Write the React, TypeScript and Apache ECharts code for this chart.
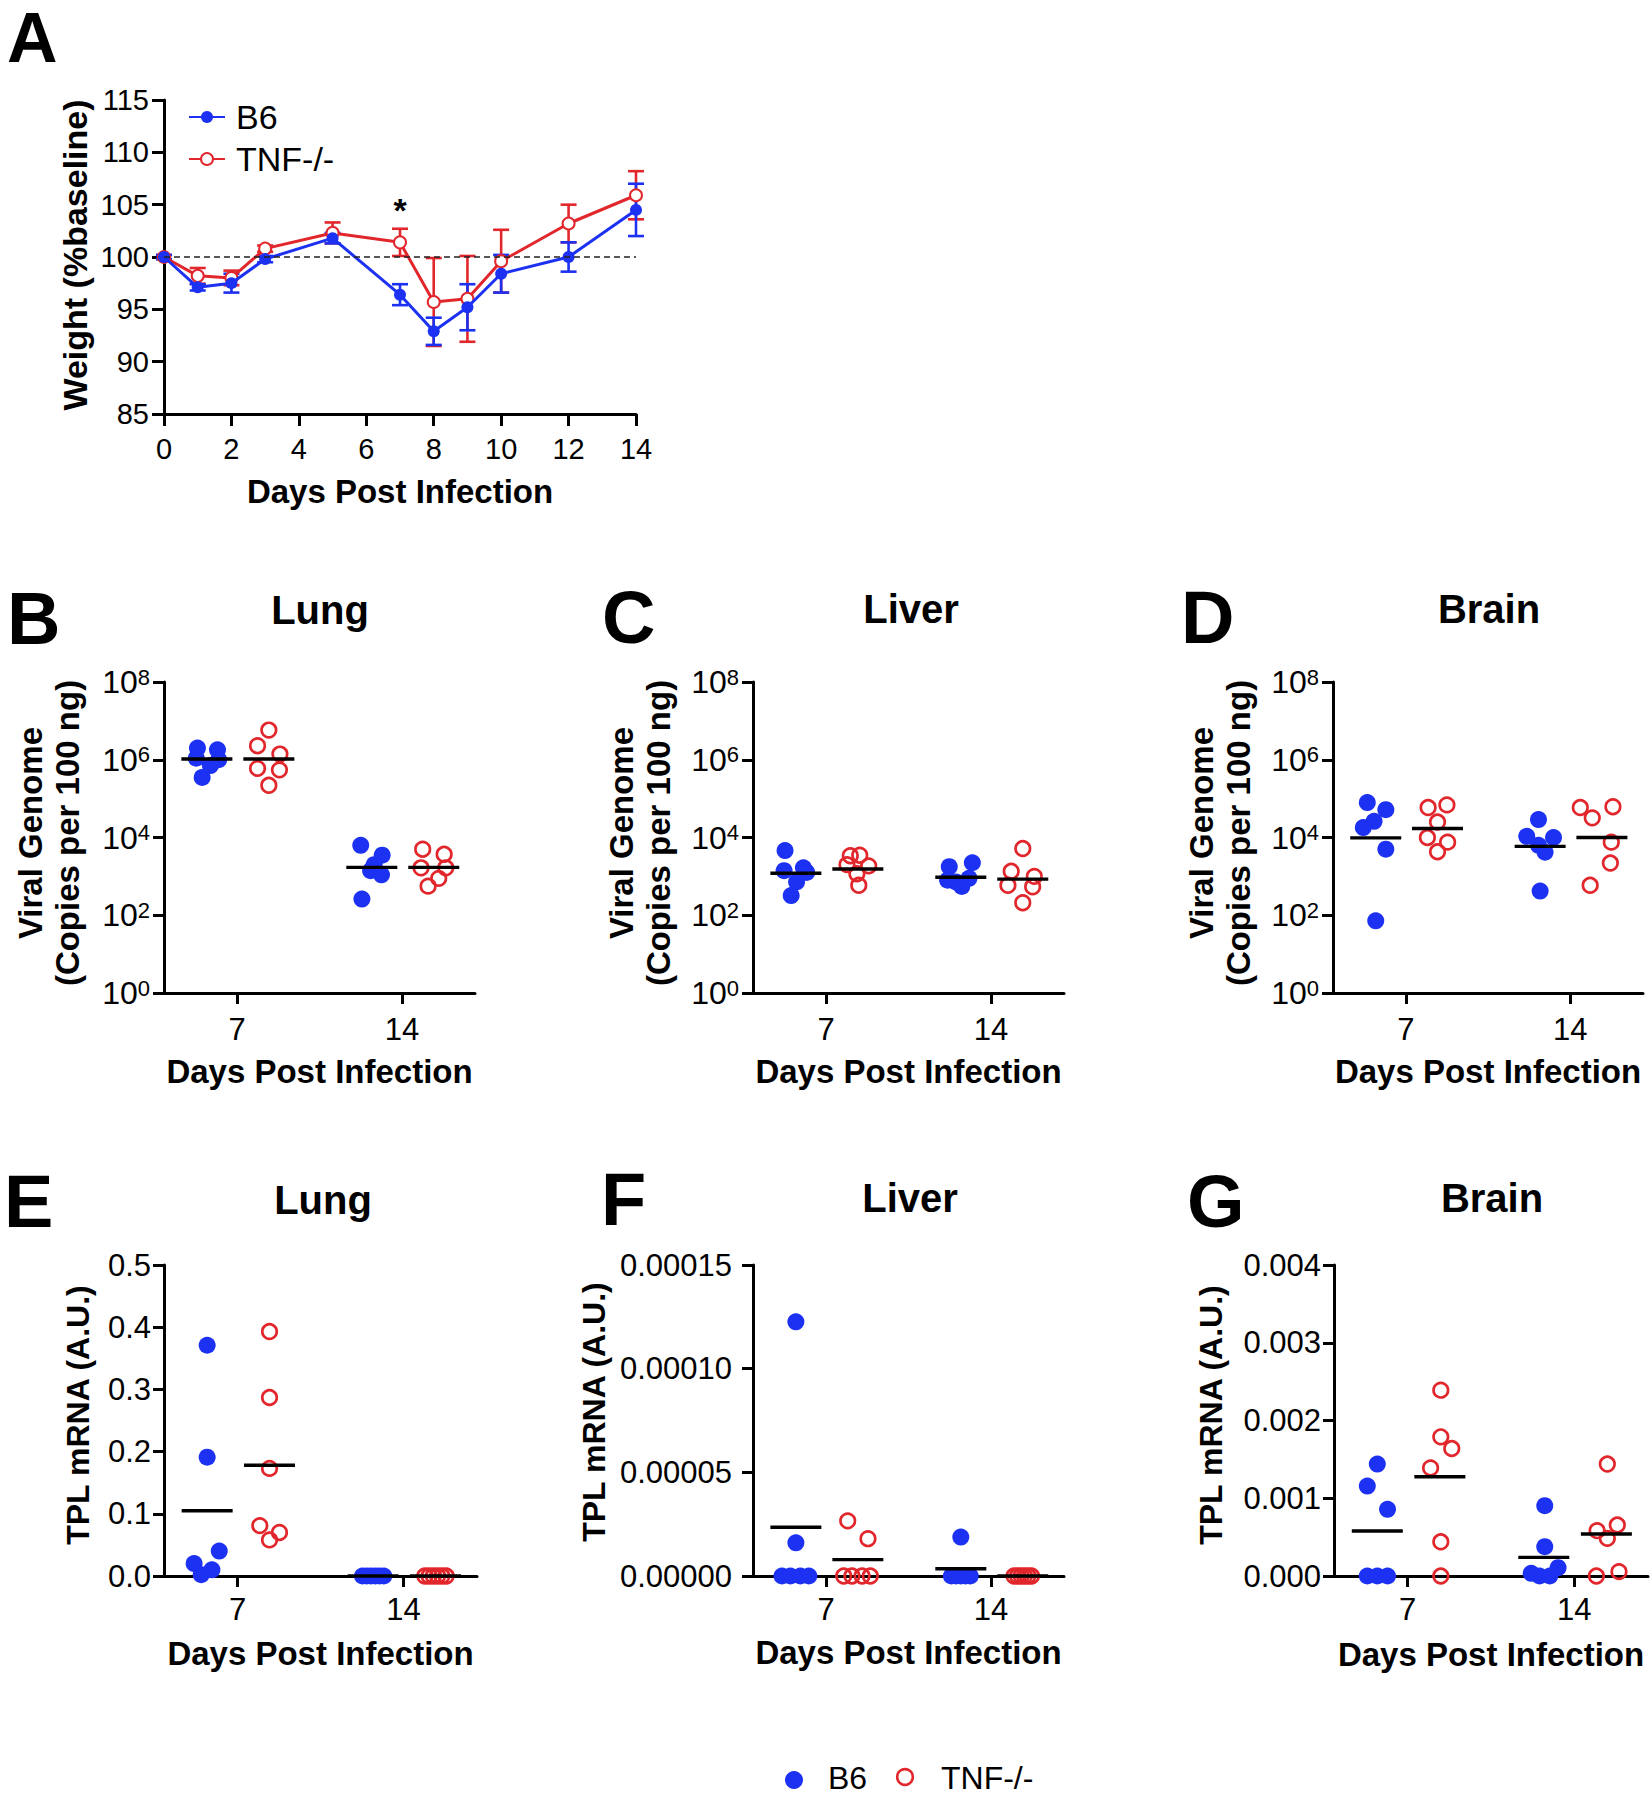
import React, { useEffect, useRef } from "react";
import * as echarts from "echarts";

const FONT = '"Liberation Sans", Arial, Helvetica, sans-serif';
const BLUE = "#1c31f2";
const RED = "#e1262c";
const BLACK = "#000000";

// ---------------- Panel A : weight (% baseline) ----------------
const A_DAYS = [0, 1, 2, 3, 5, 7, 8, 9, 10, 12, 14];
const A_B6_MEAN = [100, 97.1, 97.5, 99.8, 101.8, 96.4, 92.9, 95.2, 98.4, 100.0, 104.5];
const A_B6_SEM = [0.2, 0.3, 0.9, 0.3, 0.5, 1.0, 1.3, 2.2, 1.8, 1.4, 2.5];
const A_TNF_MEAN = [100, 98.2, 98.0, 100.8, 102.3, 101.4, 95.7, 96.0, 99.6, 103.2, 105.9];
const A_TNF_SEM = [0.2, 0.75, 0.7, 0.3, 1.0, 1.3, 4.2, 4.1, 3.0, 1.8, 2.3];
const A_SIG_DAYS = [7];

// ---------------- Panels B-G : per-mouse values, days 7 and 14 ----------------
const DAYS = [7, 14];
const LOG_TICKS = [1, 1e2, 1e4, 1e6, 1e8];

// B  Lung viral genome (copies per 100 ng)
const B_B6 = [[2.0e6, 1.8e6, 1.1e6, 1.0e6, 7.1e5, 3.5e5], [6300, 3500, 2000, 1400, 1100, 260]];
const B_TNF = [[5.8e6, 2.3e6, 1.4e6, 6.0e5, 5.5e5, 2.2e5], [5000, 3700, 1660, 1660, 890, 560]];
const B_B6_LINE = [1.05e6, 1700];
const B_TNF_LINE = [1.05e6, 1700];
// C  Liver viral genome
const C_B6 = [[4600, 1660, 1400, 1260, 720, 320], [1780, 2240, 720, 890, 550, 800]];
const C_TNF = [[3400, 3500, 2000, 1860, 1170, 590], [5200, 1350, 1000, 590, 540, 210]];
const C_B6_LINE = [1200, 950];
const C_TNF_LINE = [1550, 850];
// D  Brain viral genome
const D_B6 = [[79000, 52000, 26000, 18000, 5000, 72], [29000, 10700, 10000, 6300, 4200, 420]];
const D_TNF = [[59000, 69000, 25000, 10000, 7600, 4300], [59000, 62000, 32000, 7600, 2200, 590]];
const D_B6_LINE = [9800, 5900];
const D_TNF_LINE = [17000, 10000];
// E  Lung TPL mRNA (A.U.)
const E_B6 = [[0.371, 0.191, 0.04, 0.02, 0.01, 0.002], [0, 0, 0, 0, 0, 0]];
const E_TNF = [[0.393, 0.287, 0.173, 0.081, 0.07, 0.058], [0, 0, 0, 0, 0, 0]];
const E_B6_LINE = [0.105, 0];
const E_TNF_LINE = [0.178, 0];
// F  Liver TPL mRNA
const F_B6 = [[1.226e-4, 1.6e-5, 0, 0, 0, 0], [1.88e-5, 0, 0, 0, 0, 0]];
const F_TNF = [[2.66e-5, 1.8e-5, 0, 0, 0, 0], [0, 0, 0, 0, 0, 0]];
const F_B6_LINE = [2.35e-5, 3.5e-6];
const F_TNF_LINE = [7.9e-6, 0];
// G  Brain TPL mRNA
const G_B6 = [[1.44e-3, 1.157e-3, 8.57e-4, 0, 0, 0], [9.05e-4, 3.77e-4, 1.07e-4, 3.4e-5, 0, 0]];
const G_TNF = [[2.39e-3, 1.79e-3, 1.64e-3, 1.39e-3, 4.4e-4, 0], [1.44e-3, 6.56e-4, 5.83e-4, 4.84e-4, 5.6e-5, 0]];
const G_B6_LINE = [5.78e-4, 2.4e-4];
const G_TNF_LINE = [1.277e-3, 5.4e-4];

// ---------------- layout (horizontal scatter positions) ----------------
const B6_SHIFT = -1.28;
const TNF_SHIFT = 1.35;
const B_B6_X = [[-0.4, 0.45, -0.45, 0.5, 0.15, -0.2], [-0.47, 0.44, 0.1, -0.05, 0.41, -0.42]];
const B_TNF_X = [[0, -0.48, 0.47, -0.48, 0.45, 0], [-0.47, 0.44, -0.54, 0.51, 0.21, -0.24]];
const C_B6_X = [[-0.46, 0.32, -0.5, 0.46, 0.03, -0.2], [-0.49, 0.49, -0.21, 0.35, 0.04, -0.56]];
const C_TNF_X = [[-0.32, 0.08, -0.46, 0.46, -0.04, 0.04], [0, -0.49, 0.49, -0.63, 0.42, 0]];
const D_B6_X = [[-0.36, 0.43, -0.07, -0.53, 0.43, 0], [-0.07, -0.57, 0.57, -0.07, 0.21, 0]];
const D_TNF_X = [[-0.4, 0.4, 0, -0.43, 0.43, 0], [-0.92, 0.47, -0.41, 0.4, 0.36, -0.5]];
const E_B6_X = [[0, 0, 0.51, -0.55, 0.2, -0.25], [-0.45, -0.27, -0.09, 0.09, 0.27, 0.45]];
const E_TNF_X = [[0, 0, 0, -0.41, 0.42, 0], [-0.45, -0.27, -0.09, 0.09, 0.27, 0.45]];
const F_B6_X = [[0, 0, -0.59, -0.23, 0.19, 0.55], [0, -0.4, -0.2, 0, 0.2, 0.4]];
const F_TNF_X = [[-0.43, 0.43, -0.6, -0.25, 0.18, 0.53], [-0.37, -0.22, -0.07, 0.07, 0.22, 0.37]];
const G_B6_X = [[0, -0.42, 0.43, -0.42, 0, 0.43], [0.04, 0.04, 0.6, -0.53, -0.18, 0.25]];
const G_TNF_X = [[0.04, 0.04, 0.5, -0.39, 0.04, 0.04], [0.04, 0.46, -0.39, 0.04, 0.53, -0.42]];

const GRIDS = [
  { left: 164, top: 100, width: 472, height: 314 },
  { left: 164, top: 682, width: 311, height: 311 },
  { left: 753, top: 682, width: 311, height: 311 },
  { left: 1333, top: 682, width: 310, height: 311 },
  { left: 164, top: 1265, width: 313, height: 311 },
  { left: 753, top: 1265, width: 311, height: 311 },
  { left: 1334, top: 1265, width: 314, height: 311 },
];

type Panel = {
  title: string;
  letter: string;
  kind: "log" | "lin";
  max?: number;
  interval?: number;
  decimals?: number;
  labelMargin: number;
  xLabelMargin: number;
  xNameGap: number;
  b6: number[][];
  tnf: number[][];
  b6x: number[][];
  tnfx: number[][];
  b6Line: number[];
  tnfLine: number[];
};

const PANELS: Panel[] = [
  { title: "Lung", letter: "B", kind: "log", labelMargin: 14, xLabelMargin: 21, xNameGap: 62, b6: B_B6, tnf: B_TNF, b6x: B_B6_X, tnfx: B_TNF_X, b6Line: B_B6_LINE, tnfLine: B_TNF_LINE },
  { title: "Liver", letter: "C", kind: "log", labelMargin: 14, xLabelMargin: 21, xNameGap: 62, b6: C_B6, tnf: C_TNF, b6x: C_B6_X, tnfx: C_TNF_X, b6Line: C_B6_LINE, tnfLine: C_TNF_LINE },
  { title: "Brain", letter: "D", kind: "log", labelMargin: 14, xLabelMargin: 21, xNameGap: 62, b6: D_B6, tnf: D_TNF, b6x: D_B6_X, tnfx: D_TNF_X, b6Line: D_B6_LINE, tnfLine: D_TNF_LINE },
  { title: "Lung", letter: "E", kind: "lin", max: 0.5, interval: 0.1, decimals: 1, labelMargin: 13, xLabelMargin: 18, xNameGap: 61, b6: E_B6, tnf: E_TNF, b6x: E_B6_X, tnfx: E_TNF_X, b6Line: E_B6_LINE, tnfLine: E_TNF_LINE },
  { title: "Liver", letter: "F", kind: "lin", max: 0.00015, interval: 0.00005, decimals: 5, labelMargin: 21, xLabelMargin: 18, xNameGap: 60, b6: F_B6, tnf: F_TNF, b6x: F_B6_X, tnfx: F_TNF_X, b6Line: F_B6_LINE, tnfLine: F_TNF_LINE },
  { title: "Brain", letter: "G", kind: "lin", max: 0.004, interval: 0.001, decimals: 3, labelMargin: 13, xLabelMargin: 18, xNameGap: 62, b6: G_B6, tnf: G_TNF, b6x: G_B6_X, tnfx: G_TNF_X, b6Line: G_B6_LINE, tnfLine: G_TNF_LINE },
];

const axisLine = { show: true, onZero: false, lineStyle: { color: BLACK, width: 3 } };
const axisTick = { show: true, length: 11, lineStyle: { color: BLACK, width: 3 } };

function groupPoints(vals: number[][], offs: number[][], shift: number) {
  const out: number[][] = [];
  DAYS.forEach((d, di) => {
    vals[di].forEach((v, i) => out.push([d + shift + offs[di][i], v]));
  });
  return out;
}

function errorBarSeries(name: string, means: number[], sems: number[], color: string) {
  return {
    type: "custom",
    name,
    xAxisIndex: 0,
    yAxisIndex: 0,
    encode: { x: 0, y: 1 },
    data: A_DAYS.map((d, i) => [d, means[i], sems[i]]),
    renderItem: (params: any, api: any) => {
      const x = api.value(0);
      const m = api.value(1);
      const e = api.value(2);
      const top = api.coord([x, m + e]);
      const bot = api.coord([x, m - e]);
      const half = 8;
      const st = { stroke: color, lineWidth: 2.6 };
      return {
        type: "group",
        children: [
          { type: "line", shape: { x1: top[0], y1: top[1], x2: bot[0], y2: bot[1] }, style: st },
          { type: "line", shape: { x1: top[0] - half, y1: top[1], x2: top[0] + half, y2: top[1] }, style: st },
          { type: "line", shape: { x1: bot[0] - half, y1: bot[1], x2: bot[0] + half, y2: bot[1] }, style: st },
        ],
      };
    },
    z: 2,
  };
}

function buildOption() {
  const xAxis: any[] = [];
  const yAxis: any[] = [];
  const series: any[] = [];

  // ----- Panel A axes -----
  xAxis.push({
    type: "value",
    gridIndex: 0,
    min: 0,
    max: 14,
    interval: 2,
    axisLine,
    axisTick: { ...axisTick, length: 12 },
    splitLine: { show: false },
    axisLabel: { color: BLACK, fontSize: 29, fontFamily: FONT, margin: 20 },
    name: "Days Post Infection",
    nameLocation: "middle",
    nameGap: 61,
    nameTextStyle: { color: BLACK, fontSize: 33, fontWeight: "bold", fontFamily: FONT },
  });
  yAxis.push({
    type: "value",
    gridIndex: 0,
    min: 85,
    max: 115,
    interval: 5,
    axisLine,
    axisTick: { ...axisTick, length: 12 },
    splitLine: { show: false },
    axisLabel: { color: BLACK, fontSize: 29, fontFamily: FONT, margin: 15 },
  });

  series.push(errorBarSeries("TNF-/- SEM", A_TNF_MEAN, A_TNF_SEM, RED));
  series.push({
    type: "line",
    name: "TNF-/-",
    xAxisIndex: 0,
    yAxisIndex: 0,
    data: A_DAYS.map((d, i) =>
      A_SIG_DAYS.indexOf(d) >= 0
        ? {
            value: [d, A_TNF_MEAN[i]],
            label: {
              show: true,
              formatter: "*",
              position: "top",
              distance: 8,
              fontSize: 34,
              fontWeight: "bold",
              fontFamily: FONT,
              color: BLACK,
            },
          }
        : [d, A_TNF_MEAN[i]]
    ),
    symbol: "emptyCircle",
    symbolSize: 12,
    lineStyle: { color: RED, width: 3 },
    itemStyle: { color: RED, borderWidth: 2.5 },
    markLine: {
      silent: true,
      symbol: ["none", "none"],
      label: { show: false },
      lineStyle: { color: "#222", width: 1.5, type: [6, 4] },
      data: [{ yAxis: 100 }],
    },
    z: 2,
  });
  series.push(errorBarSeries("B6 SEM", A_B6_MEAN, A_B6_SEM, BLUE));
  series.push({
    type: "line",
    name: "B6",
    xAxisIndex: 0,
    yAxisIndex: 0,
    data: A_DAYS.map((d, i) => [d, A_B6_MEAN[i]]),
    symbol: "circle",
    symbolSize: 12,
    lineStyle: { color: BLUE, width: 3 },
    itemStyle: { color: BLUE },
    z: 3,
  });

  // ----- Panels B-G -----
  PANELS.forEach((p, k) => {
    const gi = k + 1;
    xAxis.push({
      type: "value",
      gridIndex: gi,
      min: 3.9,
      max: 17.1,
      axisLine,
      axisTick: { ...axisTick, customValues: DAYS },
      splitLine: { show: false },
      axisLabel: {
        customValues: DAYS,
        color: BLACK,
        fontSize: 31,
        fontFamily: FONT,
        margin: p.xLabelMargin,
      },
      name: "Days Post Infection",
      nameLocation: "middle",
      nameGap: p.xNameGap,
      nameTextStyle: { color: BLACK, fontSize: 33, fontWeight: "bold", fontFamily: FONT },
    });
    if (p.kind === "log") {
      yAxis.push({
        type: "log",
        logBase: 10,
        gridIndex: gi,
        min: 1,
        max: 1e8,
        axisLine,
        axisTick: { ...axisTick, customValues: LOG_TICKS },
        minorTick: { show: false },
        splitLine: { show: false },
        axisLabel: {
          customValues: LOG_TICKS,
          margin: p.labelMargin,
          formatter: (v: number) => `{b|10}{s|${Math.round(Math.log10(v))}}`,
          rich: {
            b: { fontSize: 32, fontFamily: FONT, color: BLACK },
            s: { fontSize: 22, fontFamily: FONT, color: BLACK, verticalAlign: "top" },
          },
        },
      });
    } else {
      yAxis.push({
        type: "value",
        gridIndex: gi,
        min: 0,
        max: p.max,
        interval: p.interval,
        axisLine,
        axisTick,
        splitLine: { show: false },
        axisLabel: {
          margin: p.labelMargin,
          color: BLACK,
          fontSize: 31,
          fontFamily: FONT,
          formatter: (v: number) => v.toFixed(p.decimals),
        },
      });
    }

    series.push({
      type: "scatter",
      name: `B6 ${p.letter}`,
      xAxisIndex: gi,
      yAxisIndex: gi,
      clip: false,
      symbol: "circle",
      symbolSize: 17,
      itemStyle: { color: BLUE, opacity: 1 },
      data: groupPoints(p.b6, p.b6x, B6_SHIFT),
      z: 3,
    });
    series.push({
      type: "scatter",
      name: `TNF-/- ${p.letter}`,
      xAxisIndex: gi,
      yAxisIndex: gi,
      clip: false,
      symbol: "circle",
      symbolSize: 14.5,
      itemStyle: { color: "rgba(255,255,255,0)", borderColor: RED, borderWidth: 2.7, opacity: 1 },
      data: groupPoints(p.tnf, p.tnfx, TNF_SHIFT),
      z: 3,
    });
    const lineData: number[][] = [];
    DAYS.forEach((d, di) => {
      lineData.push([d + B6_SHIFT, p.b6Line[di]]);
      lineData.push([d + TNF_SHIFT, p.tnfLine[di]]);
    });
    series.push({
      type: "scatter",
      name: `Mean ${p.letter}`,
      xAxisIndex: gi,
      yAxisIndex: gi,
      clip: false,
      symbol: "rect",
      symbolSize: [51, 3.4],
      itemStyle: { color: BLACK, opacity: 1 },
      data: lineData,
      z: 4,
    });
  });

  // ----- free texts -----
  const letterPos: [string, number, number, number][] = [
    ["A", 7, 38, 70],
    ["B", 7, 618, 74],
    ["C", 602, 617, 74],
    ["D", 1181, 617, 74],
    ["E", 4, 1201, 74],
    ["F", 601, 1199, 74],
    ["G", 1187, 1201, 74],
  ];
  const titlePos = [
    [320, 610],
    [911, 609],
    [1489, 609],
    [323, 1200],
    [910, 1198],
    [1492, 1198],
  ];
  const yNamePos = [
    [49, 833],
    [640, 833],
    [1220, 833],
    [78, 1415],
    [594, 1412],
    [1211, 1415],
  ];
  const graphic: any[] = [];
  letterPos.forEach(([t, x, y, fs]) =>
    graphic.push({
      type: "text",
      x,
      y,
      style: { text: t, fontSize: fs, lineHeight: 56, fontWeight: "bold", fontFamily: FONT, fill: BLACK, align: "left", verticalAlign: "middle", textAlign: "left", textVerticalAlign: "middle" },
    })
  );
  PANELS.forEach((p, k) => {
    graphic.push({
      type: "text",
      x: titlePos[k][0],
      y: titlePos[k][1],
      style: { text: p.title, fontSize: 40, fontWeight: "bold", fontFamily: FONT, fill: BLACK, align: "center", verticalAlign: "middle", textAlign: "center", textVerticalAlign: "middle" },
    });
    const isLog = p.kind === "log";
    graphic.push({
      type: "text",
      x: yNamePos[k][0],
      y: yNamePos[k][1],
      rotation: Math.PI / 2,
      style: {
        text: isLog ? "Viral Genome\n(Copies per 100 ng)" : "TPL mRNA (A.U.)",
        fontSize: isLog ? 33 : 32,
        lineHeight: 37,
        fontWeight: "bold",
        fontFamily: FONT,
        fill: BLACK,
        align: "center",
        verticalAlign: "middle",
        textAlign: "center",
        textVerticalAlign: "middle",
      },
    });
  });
  graphic.push({
    type: "text",
    x: 75,
    y: 255,
    rotation: Math.PI / 2,
    style: { text: "Weight (%baseline)", fontSize: 34, fontWeight: "bold", fontFamily: FONT, fill: BLACK, align: "center", verticalAlign: "middle", textAlign: "center", textVerticalAlign: "middle" },
  });
  // bottom legend
  graphic.push({ type: "circle", shape: { cx: 794, cy: 1780, r: 9 }, style: { fill: BLUE } });
  graphic.push({
    type: "text",
    x: 828,
    y: 1778,
    style: { text: "B6", fontSize: 32, fontFamily: FONT, fill: BLACK, align: "left", verticalAlign: "middle", textAlign: "left", textVerticalAlign: "middle" },
  });
  graphic.push({ type: "circle", shape: { cx: 905, cy: 1777, r: 7.8 }, style: { fill: "none", stroke: RED, lineWidth: 2.6 } });
  graphic.push({
    type: "text",
    x: 941,
    y: 1778,
    style: { text: "TNF-/-", fontSize: 32, fontFamily: FONT, fill: BLACK, align: "left", verticalAlign: "middle", textAlign: "left", textVerticalAlign: "middle" },
  });

  return {
    animation: false,
    backgroundColor: "#ffffff",
    textStyle: { fontFamily: FONT },
    grid: GRIDS.map((g) => ({ ...g, containLabel: false })),
    xAxis,
    yAxis,
    legend: {
      data: ["B6", "TNF-/-"],
      orient: "vertical",
      left: 183,
      top: 95,
      itemWidth: 36,
      itemHeight: 15,
      itemGap: 8,
      selectedMode: false,
      textStyle: { color: BLACK, fontSize: 34, fontFamily: FONT, lineHeight: 15, padding: [0, 0, 0, 6] },
    },
    series,
    graphic,
  };
}

export default function App() {
  const ref = useRef<HTMLDivElement>(null);
  useEffect(() => {
    if (!ref.current) return;
    const chart = echarts.init(ref.current, null, { renderer: "svg" });
    chart.setOption(buildOption() as any);
    return () => chart.dispose();
  }, []);
  return (
    <div
      ref={ref}
      style={{ position: "absolute", left: 0, top: 0, width: 1651, height: 1800, background: "#fff" }}
    />
  );
}
